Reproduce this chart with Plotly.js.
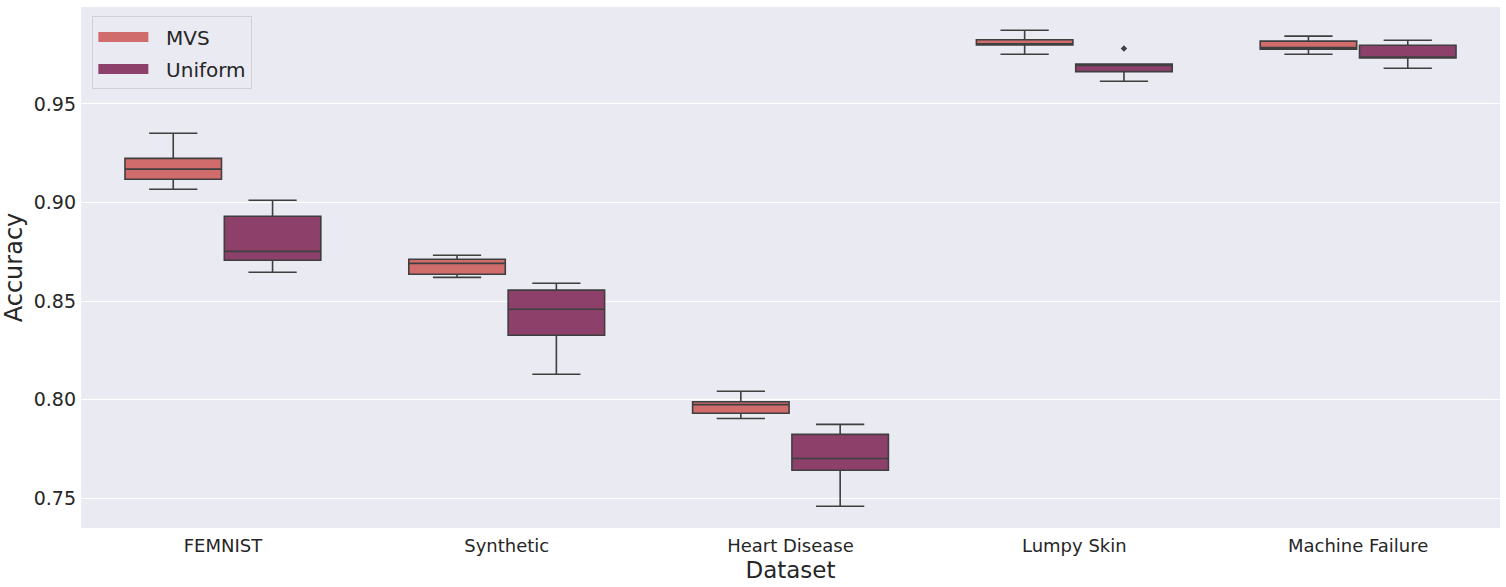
<!DOCTYPE html>
<html>
<head>
<meta charset="utf-8">
<script src="https://cdn.plot.ly/plotly-3.0.1.min.js"></script>
<style>html,body{margin:0;padding:0;background:#fff;}#chart{width:1506px;height:587px;}</style>
</head>
<body>
<div id="chart"></div>
<script>
const categories = ["FEMNIST", "Synthetic", "Heart Disease", "Lumpy Skin", "Machine Failure"];
const seriesNames = ["MVS", "Uniform"];

const mvsLower  = [0.9067, 0.8620, 0.7904, 0.9752, 0.9752];
const mvsQ1     = [0.9118, 0.8636, 0.7930, 0.9800, 0.9778];
const mvsMedian = [0.9169, 0.8691, 0.7974, 0.9804, 0.9786];
const mvsQ3     = [0.9224, 0.8712, 0.7989, 0.9826, 0.9819];
const mvsUpper  = [0.9351, 0.8732, 0.8042, 0.9874, 0.9844];

const uniLower  = [0.8646, 0.8128, 0.7458, 0.9615, 0.9681];
const uniQ1     = [0.8707, 0.8326, 0.7641, 0.9664, 0.9733];
const uniMedian = [0.8752, 0.8458, 0.7701, 0.9696, 0.9736];
const uniQ3     = [0.8930, 0.8555, 0.7823, 0.9702, 0.9798];
const uniUpper  = [0.9011, 0.8590, 0.7874, 0.9702, 0.9823];

const outlierCategory = ["Lumpy Skin"];
const outlierValue = [0.9781];

const colors = ["#d06d6c", "#8d406a"];
const lineColor = "#3f3f3f";
const offset = 0.175, boxW = 0.34;
const idx = categories.map((c, i) => i);

function boxTrace(name, color, dx, lo, q1, med, q3, hi) {
  return {
    type: "box", name: name, showlegend: false,
    x: idx.map(i => i + dx),
    lowerfence: lo, q1: q1, median: med, q3: q3, upperfence: hi,
    width: boxW, whiskerwidth: 0.5,
    fillcolor: color,
    line: {color: lineColor, width: 1.6},
    boxpoints: false, hoverinfo: "y"
  };
}

function legendPatch(name, color) {
  return {
    type: "scatter", mode: "lines", name: "\u00a0\u00a0" + name,
    legendgroup: name,
    x: [null], y: [null],
    line: {color: color, width: 15},
    hoverinfo: "skip"
  };
}

const traces = [
  boxTrace(seriesNames[0], colors[0], -offset, mvsLower, mvsQ1, mvsMedian, mvsQ3, mvsUpper),
  boxTrace(seriesNames[1], colors[1], offset, uniLower, uniQ1, uniMedian, uniQ3, uniUpper),
  {
    type: "scatter", mode: "markers", showlegend: false,
    x: outlierCategory.map(c => categories.indexOf(c) + offset),
    y: outlierValue,
    marker: {symbol: "diamond", size: 5, color: lineColor}
  },
  legendPatch(seriesNames[0], colors[0]),
  legendPatch(seriesNames[1], colors[1])
];

const layout = {
  width: 1506, height: 587,
  margin: {l: 81, r: 6, t: 7, b: 59},
  paper_bgcolor: "#ffffff",
  plot_bgcolor: "#eaeaf2",
  font: {family: "DejaVu Sans, sans-serif", color: "#262626"},
  showlegend: true,
  legend: {
    x: 0.008, y: 0.982, xanchor: "left", yanchor: "top",
    bgcolor: "#eaeaf2", bordercolor: "#d0d0d6", borderwidth: 1,
    font: {size: 20, color: "#262626"},
    itemwidth: 50, tracegroupgap: 3
  },
  xaxis: {
    range: [-0.5, 4.5],
    tickmode: "array", tickvals: idx, ticktext: categories,
    showgrid: false, zeroline: false, showline: false, ticks: "",
    ticklabelstandoff: 5,
    tickfont: {size: 18, color: "#262626"},
    title: {text: "Dataset", font: {size: 23, color: "#262626"}, standoff: 6}
  },
  yaxis: {
    range: [0.7348, 0.9992],
    tickmode: "linear", tick0: 0.75, dtick: 0.05, tickformat: ".2f",
    showgrid: true, gridcolor: "#ffffff", gridwidth: 1,
    zeroline: false, showline: false, ticks: "",
    ticklabelstandoff: 4,
    tickfont: {size: 19, color: "#262626"},
    title: {text: "Accuracy", font: {size: 24, color: "#262626"}, standoff: 8}
  }
};

Plotly.newPlot("chart", traces, layout, {displayModeBar: false, staticPlot: true});
</script>
</body>
</html>
